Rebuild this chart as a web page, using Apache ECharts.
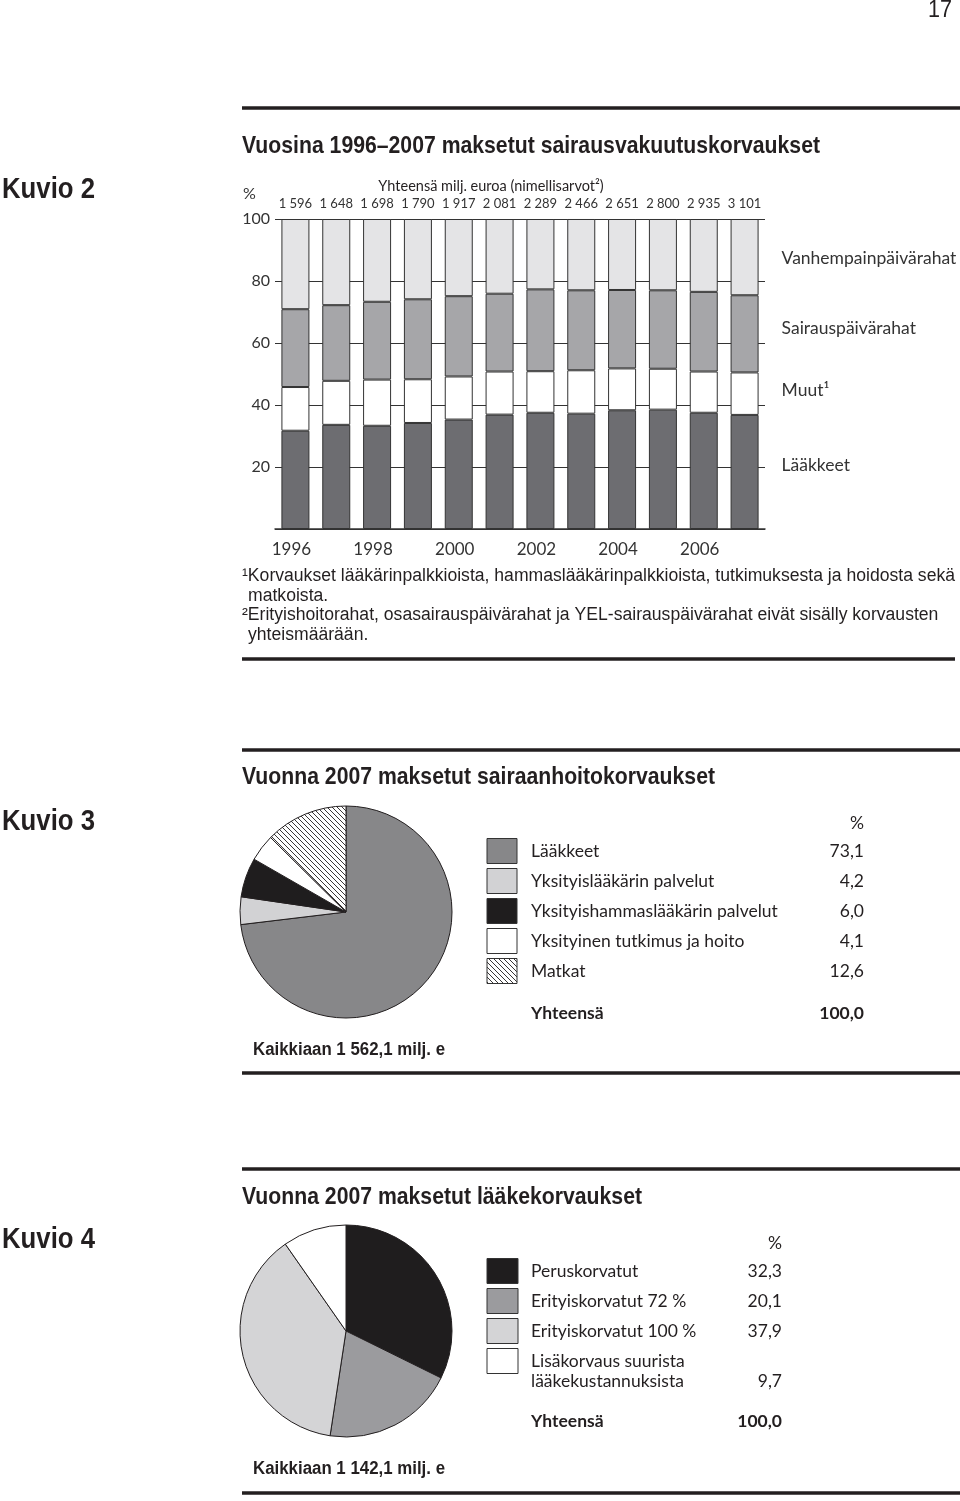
<!DOCTYPE html>
<html>
<head>
<meta charset="utf-8">
<script src="https://cdn.jsdelivr.net/npm/echarts@6/dist/echarts.min.js"></script>
<style>
html,body{margin:0;padding:0;background:#fff;}
#chart{width:960px;height:1501px;}
</style>
</head>
<body>
<div id="chart"></div>
<script>
// ---------- DATA ----------
const years = ['1996','1997','1998','1999','2000','2001','2002','2003','2004','2005','2006','2007'];
const totals = ['1 596','1 648','1 698','1 790','1 917','2 081','2 289','2 466','2 651','2 800','2 935','3 101'];
const laakkeet = [31.7, 33.6, 33.3, 34.2, 35.3, 36.9, 37.5, 37.2, 38.3, 38.5, 37.5, 36.8];
const muut = [14.1, 14.2, 14.9, 14.1, 13.9, 13.9, 13.4, 14.0, 13.5, 13.2, 13.3, 13.7];
const sairauspaivarahat = [25.1, 24.4, 25.1, 25.8, 25.9, 25.1, 26.4, 25.8, 25.3, 25.3, 25.7, 24.9];
const vanhempainpaivarahat = [29.1, 27.8, 26.7, 25.9, 24.9, 24.1, 22.7, 23.0, 22.9, 23.0, 23.5, 24.6];
const yTicks = [0, 20, 40, 60, 80, 100];

const k3Names = ['Lääkkeet', 'Yksityislääkärin palvelut', 'Yksityishammaslääkärin palvelut', 'Yksityinen tutkimus ja hoito', 'Matkat'];
const k3Values = [73.1, 4.2, 6.0, 4.1, 12.6];
const k3Total = 100.0;

const k4Names = ['Peruskorvatut', 'Erityiskorvatut 72 %', 'Erityiskorvatut 100 %', 'Lisäkorvaus suurista\nlääkekustannuksista'];
const k4Values = [32.3, 20.1, 37.9, 9.7];
const k4Total = 100.0;

// ---------- STYLE ----------
const NARROW = "'Liberation Sans', Arial, sans-serif";
const BODY = "Lato, 'Open Sans', sans-serif";
const INK = '#231f20';

const mctx = document.createElement('canvas').getContext('2d');
function measure(font, t) { mctx.font = font; return mctx.measureText(t).width; }
function fontStr(weight, size, family) { return weight + ' ' + size + 'px ' + family; }

function hatch() {
  const s = 5;
  const c = document.createElement('canvas');
  c.width = s; c.height = s;
  const ctx = c.getContext('2d');
  ctx.fillStyle = '#fff'; ctx.fillRect(0, 0, s, s);
  ctx.strokeStyle = '#231f20'; ctx.lineWidth = 0.9;
  ctx.beginPath();
  ctx.moveTo(-1, -1); ctx.lineTo(s + 1, s + 1);
  ctx.moveTo(-1, s - 1); ctx.lineTo(1, s + 1);
  ctx.moveTo(s - 1, -1); ctx.lineTo(s + 1, 1);
  ctx.stroke();
  return c;
}
const hatchPattern = { image: hatch(), repeat: 'repeat' };

const k3Colors = ['#878789', '#d2d2d4', '#1f1d1e', '#ffffff', hatchPattern];
const k4Colors = ['#1f1d1e', '#9b9b9e', '#d4d4d6', '#ffffff'];
const barColors = { laak: '#6d6d71', muut: '#ffffff', sair: '#a6a6a9', vanh: '#e4e4e6' };

const fmt = v => v.toFixed(1).replace('.', ',');

// condensed-look scales (horizontal compression of a regular font)
const TITLE1 = 'Vuosina 1996–2007 maksetut sairausvakuutuskorvaukset';
const FN1 = '¹Korvaukset lääkärinpalkkioista, hammaslääkärinpalkkioista, tutkimuksesta ja hoidosta sekä';
const titleScale = 578 / measure(fontStr('bold', 24, NARROW), TITLE1);
const fnScale = 713 / measure(fontStr('normal', 18, NARROW), FN1);
const kuvioScale = 93 / measure(fontStr('bold', 29, NARROW), 'Kuvio 2');
const kaikScale = 192 / measure(fontStr('bold', 18, NARROW), 'Kaikkiaan 1 562,1 milj. e');
const pageScale = 24 / measure(fontStr('normal', 24, NARROW), '17');

// ---------- GRAPHIC ----------
const g = [];
function text(x, y, t, opt) {
  opt = opt || {};
  g.push({
    type: 'text', x: x, y: y, silent: true,
    scaleX: opt.scaleX || 1,
    style: {
      text: t,
      font: fontStr(opt.weight || 'normal', opt.size || 16, opt.family || BODY),
      fill: opt.color || INK,
      align: opt.align || 'left',
      verticalAlign: 'middle'
    }
  });
}
function hline(y, x1, x2, w) {
  g.push({ type: 'line', silent: true, shape: { x1: x1, y1: y, x2: x2, y2: y }, style: { stroke: INK, lineWidth: w || 3.5 } });
}

// page number and rules
text(952, 10, '17', { size: 24, family: NARROW, align: 'right', scaleX: pageScale });
hline(108, 242, 960);
hline(659, 242, 955);
hline(750, 242, 960);
hline(1073, 242, 960);
hline(1169, 242, 960);
hline(1493, 242, 960);

// Kuvio 2
text(2, 190, 'Kuvio 2', { size: 29, weight: 'bold', family: NARROW, scaleX: kuvioScale });
text(242, 146, TITLE1, { size: 24, weight: 'bold', family: NARROW, scaleX: titleScale });
text(491, 186, 'Yhteensä milj. euroa (nimellisarvot²)', { size: 14.5, align: 'center' });
text(243, 194, '%', { size: 16, color: '#333' });
const fnOpt = { size: 18, family: NARROW, scaleX: fnScale };
text(242, 576, FN1, fnOpt);
text(248, 596, 'matkoista.', fnOpt);
text(242, 615, '²Erityishoitorahat, osasairauspäivärahat ja YEL-sairauspäivärahat eivät sisälly korvausten', fnOpt);
text(248, 635, 'yhteismäärään.', fnOpt);

// Kuvio 3
text(2, 822, 'Kuvio 3', { size: 29, weight: 'bold', family: NARROW, scaleX: kuvioScale });
text(242, 777, 'Vuonna 2007 maksetut sairaanhoitokorvaukset', { size: 24, weight: 'bold', family: NARROW, scaleX: titleScale });
text(864, 823, '%', { size: 17.5, align: 'right' });
k3Names.forEach((n, i) => {
  const yc = 851 + i * 30;
  g.push({ type: 'rect', silent: true, shape: { x: 487, y: yc - 12.5, width: 30, height: 25 }, style: { fill: k3Colors[i], stroke: '#333', lineWidth: 1 } });
  text(531, yc, n, { size: 17.5 });
  text(864, yc, fmt(k3Values[i]), { size: 17.5, align: 'right' });
});
text(531, 1013, 'Yhteensä', { size: 17.5, weight: 'bold' });
text(864, 1013, fmt(k3Total), { size: 17.5, weight: 'bold', align: 'right' });
text(253, 1050, 'Kaikkiaan 1 562,1 milj. e', { size: 18, weight: 'bold', family: NARROW, scaleX: kaikScale });

// Kuvio 4
text(2, 1240, 'Kuvio 4', { size: 29, weight: 'bold', family: NARROW, scaleX: kuvioScale });
text(242, 1197, 'Vuonna 2007 maksetut lääkekorvaukset', { size: 24, weight: 'bold', family: NARROW, scaleX: titleScale });
text(782, 1243, '%', { size: 17.5, align: 'right' });
k4Names.forEach((n, i) => {
  const yc = 1271 + i * 30;
  g.push({ type: 'rect', silent: true, shape: { x: 487, y: yc - 12.5, width: 31, height: 25 }, style: { fill: k4Colors[i], stroke: '#333', lineWidth: 1 } });
  const lines = n.split('\n');
  lines.forEach((ln, j) => text(531, yc + j * 20, ln, { size: 17.5 }));
  text(782, yc + (lines.length - 1) * 20, fmt(k4Values[i]), { size: 17.5, align: 'right' });
});
text(531, 1421, 'Yhteensä', { size: 17.5, weight: 'bold' });
text(782, 1421, fmt(k4Total), { size: 17.5, weight: 'bold', align: 'right' });
text(253, 1469, 'Kaikkiaan 1 142,1 milj. e', { size: 18, weight: 'bold', family: NARROW, scaleX: kaikScale });

// ---------- CHART ----------
const chart = echarts.init(document.getElementById('chart'), null, { renderer: 'canvas' });

const labelOffsets = { 'Lääkkeet': -7, 'Muut¹': -3, 'Sairauspäivärahat': -5, 'Vanhempainpäivärahat': 1 };
function barSeries(name, data, color) {
  return {
    name: name, type: 'bar', stack: 'total', data: data,
    barWidth: 28, xAxisIndex: 0, yAxisIndex: 0,
    itemStyle: { color: color, borderColor: '#333', borderWidth: 1 },
    label: {
      show: true, position: 'right', distance: 23,
      offset: [0, labelOffsets[name]],
      color: '#333', fontSize: 17.5, fontFamily: BODY,
      formatter: p => (p.dataIndex === data.length - 1 ? p.seriesName : '')
    },
    emphasis: { disabled: true },
    animation: false
  };
}

function pieSeries(names, values, colors, cy) {
  return {
    type: 'pie', center: [346, cy], radius: 106,
    startAngle: 90, clockwise: true,
    label: { show: false }, labelLine: { show: false },
    itemStyle: { borderColor: '#231f20', borderWidth: 1 },
    emphasis: { disabled: true }, silent: true,
    animation: false,
    data: names.map((n, i) => ({ name: n, value: values[i], itemStyle: { color: colors[i] } }))
  };
}

chart.setOption({
  animation: false,
  backgroundColor: '#fff',
  grid: { left: 275, right: 195, top: 219, bottom: 972, containLabel: false },
  xAxis: [
    {
      type: 'category', data: years, position: 'bottom',
      axisLine: { show: true, lineStyle: { color: '#333', width: 1.5 } },
      axisTick: { show: false },
      axisLabel: { interval: 1, margin: 12, color: '#333', fontSize: 17, fontFamily: BODY, padding: [0, 8, 0, 0] }
    },
    {
      type: 'category', data: totals, position: 'top',
      axisLine: { show: false }, axisTick: { show: false },
      axisLabel: { interval: 0, margin: 9, color: '#333', fontSize: 13, fontFamily: BODY }
    }
  ],
  yAxis: {
    type: 'value', min: yTicks[0], max: yTicks[yTicks.length - 1], interval: 20,
    axisLine: { show: false }, axisTick: { show: false },
    splitLine: { show: true, lineStyle: { color: '#333', width: 1 } },
    axisLabel: { color: '#333', fontSize: 16, fontFamily: BODY, margin: 5, showMinLabel: false,
      formatter: v => (v === 0 ? '' : String(v)) }
  },
  series: [
    barSeries('Lääkkeet', laakkeet, barColors.laak),
    barSeries('Muut¹', muut, barColors.muut),
    barSeries('Sairauspäivärahat', sairauspaivarahat, barColors.sair),
    barSeries('Vanhempainpäivärahat', vanhempainpaivarahat, barColors.vanh),
    pieSeries(k3Names, k3Values, k3Colors, 912),
    pieSeries(k4Names, k4Values, k4Colors, 1331)
  ],
  graphic: g
});
</script>
</body>
</html>
